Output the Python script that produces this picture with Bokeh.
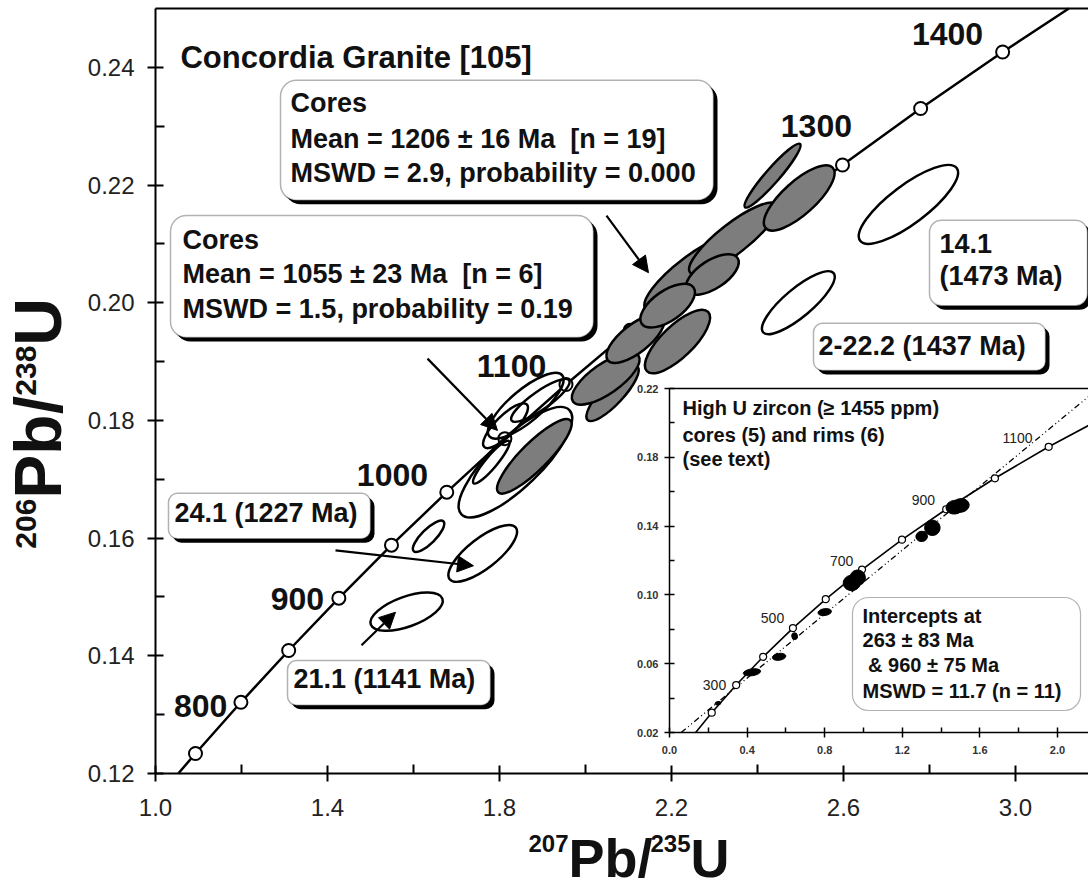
from bokeh.plotting import figure
from bokeh.models import (Range1d, LinearAxis, FixedTicker, PrintfTickFormatter,
                          Label, BoxAnnotation, Arrow, NormalHead, ColumnDataSource)
from bokeh.embed import file_html
from bokeh.resources import INLINE

FONT = "Liberation Sans"
W, H = 1088, 887

# ---------------- main concordia (ages in Ma) ----------------
conc_age = [750, 800, 850, 900, 950, 1000, 1050, 1100, 1150, 1200, 1250, 1300, 1350, 1400]
conc_x = [1.0930, 1.1987, 1.3097, 1.4264, 1.5488, 1.6774, 1.8125, 1.9546,
          2.1037, 2.2603, 2.4249, 2.5977, 2.7794, 2.9701]
conc_y = [0.1234, 0.1321, 0.1409, 0.1498, 0.1588, 0.1678, 0.1769, 0.1861,
          0.1953, 0.2046, 0.2140, 0.2234, 0.2330, 0.2426]
# curve end points where it meets the diagram edges
conc_line_x = [1.053] + conc_x + [3.124]
conc_line_y = [0.120] + conc_y + [0.250]
age_labels = ["800", "900", "1000", "1100", "1300", "1400"]
age_label_x = [1.105, 1.330, 1.551, 1.828, 2.537, 2.842]
age_label_y = [0.1314, 0.1497, 0.1708, 0.1892, 0.2301, 0.2457]

# open (unfilled) analyses
open_x = [2.751, 2.495, 1.761, 1.584, 1.635, 1.837, 1.861, 1.814, 1.781, 1.895]
open_y = [0.2167, 0.2000, 0.1574, 0.1475, 0.1603, 0.1729, 0.1825, 0.1791, 0.1729, 0.1834]
open_w = [0.281, 0.214, 0.195, 0.177, 0.098, 0.349, 0.221, 0.140, 0.128, 0.163]
open_h = [0.0065, 0.0048, 0.0051, 0.0051, 0.0024, 0.0085, 0.0054, 0.0034, 0.0020, 0.0031]
open_ang = [37, 40, 38, 20, 45, 44, 40, 45, 50, 35]

# grey (cores) analyses
core_x = [1.881, 2.063, 2.047, 2.116, 2.214, 2.251, 2.344, 2.295, 2.191, 2.497, 2.435]
core_y = [0.1739, 0.1846, 0.1871, 0.1939, 0.1934, 0.2050, 0.2109, 0.2048, 0.1995, 0.2178, 0.2216]
core_w = [0.237, 0.170, 0.186, 0.163, 0.198, 0.279, 0.256, 0.140, 0.147, 0.210, 0.195]
core_h = [0.0046, 0.0037, 0.0051, 0.0048, 0.0054, 0.0060, 0.0051, 0.0048, 0.0051, 0.0056, 0.0024]
core_ang = [45, 47, 35, 38, 44, 37, 38, 33, 35, 42, 49]

x_major = [1.0, 1.4, 1.8, 2.2, 2.6, 3.0]
x_minor = [1.2, 1.6, 2.0, 2.4, 2.8]
y_major = [0.12, 0.14, 0.16, 0.18, 0.20, 0.22, 0.24]
y_minor = [0.13, 0.15, 0.17, 0.19, 0.21, 0.23]
X_LO, X_HI = 1.0, 3.17
Y_LO, Y_HI = 0.12, 0.25

# ---------------- inset ----------------
ins_age = ["300", "500", "700", "900", "1100"]
ins_age_x = [0.232, 0.531, 0.887, 1.309, 1.794]
ins_age_y = [0.0479, 0.0863, 0.1200, 0.1549, 0.1915]
ins_conc_x = [0.135, 0.2177, 0.3437, 0.4828, 0.6363, 0.8056, 0.9925, 1.1987, 1.4264, 1.6774, 1.9546, 2.160]
ins_conc_y = [0.020, 0.0315, 0.0476, 0.0640, 0.0807, 0.0975, 0.1147, 0.1321, 0.1498, 0.1678, 0.1861, 0.1985]
disc_x = [0.06, 2.16]
disc_y = [0.020, 0.2153]
pt_x = [0.25, 0.425, 0.565, 0.645, 0.80, 0.94, 0.97, 1.30, 1.355, 1.47, 1.50]
pt_y = [0.037, 0.055, 0.064, 0.076, 0.090, 0.107, 0.110, 0.134, 0.139, 0.151, 0.152]
pt_w = [0.03, 0.09, 0.07, 0.03, 0.07, 0.09, 0.08, 0.06, 0.08, 0.09, 0.09]
pt_h = [0.002, 0.004, 0.004, 0.004, 0.004, 0.009, 0.009, 0.006, 0.009, 0.008, 0.008]
ix_major = [0.0, 0.4, 0.8, 1.2, 1.6, 2.0]
ix_minor = [0.2, 0.6, 1.0, 1.4, 1.8]
iy_major = [0.02, 0.06, 0.10, 0.14, 0.18, 0.22]
iy_minor = [0.04, 0.08, 0.12, 0.16, 0.20]
IX_LO, IX_HI = 0.0, 2.16
IY_LO, IY_HI = 0.02, 0.22

# ---------------- layout of the drawing on the page ----------------
# main diagram: x=1.0 at 155 px from the left, 430 px per unit;
# y=0.12 at 114 px above the bottom, 5885 px per unit
x0 = X_LO - 155 / 430
y0 = Y_LO - 114 / 5885
XR = (x0, x0 + W / 430)
YR = (y0, y0 + H / 5885)
# inset: x=0 at 669 px, 194 px per unit; y=0.02 at 155 px above bottom, 1720 px per unit
IXR = (IX_LO - 669 / 194, IX_LO - 669 / 194 + W / 194)
IYR = (IY_LO - 155 / 1720, IY_LO - 155 / 1720 + H / 1720)

p = figure(width=W, height=H, x_range=Range1d(*XR), y_range=Range1d(*YR),
           output_backend="svg", toolbar_location=None,
           x_axis_location=None, y_axis_location=None, min_border=0)
p.grid.visible = False
p.outline_line_color = None
p.background_fill_color = "white"
p.border_fill_color = "white"
p.extra_x_ranges = {"ix": Range1d(*IXR)}
p.extra_y_ranges = {"iy": Range1d(*IYR)}
INS = dict(x_range_name="ix", y_range_name="iy")


def style_axis(ax, tin, tout, mtin, lw, font_size, standoff, bold=False, color="#222"):
    ax.axis_line_width = lw
    ax.major_tick_line_width = lw
    ax.minor_tick_line_width = lw
    ax.major_tick_in = tin
    ax.major_tick_out = tout
    ax.minor_tick_in = mtin
    ax.minor_tick_out = 0
    ax.major_label_text_font = FONT
    ax.major_label_text_font_size = font_size
    ax.major_label_text_color = color
    ax.major_label_text_font_style = "bold" if bold else "normal"
    ax.major_label_standoff = standoff


def frame_line(loc, bounds, lw, **kw):
    ax = LinearAxis(fixed_location=loc, bounds=bounds, ticker=FixedTicker(ticks=[]), **kw)
    ax.axis_line_width = lw
    ax.major_tick_in = ax.major_tick_out = ax.minor_tick_in = ax.minor_tick_out = 0
    p.add_layout(ax, "below")


# main axes
xa = LinearAxis(fixed_location=Y_LO, bounds=(X_LO, X_HI),
                ticker=FixedTicker(ticks=x_major, minor_ticks=x_minor),
                formatter=PrintfTickFormatter(format="%.1f"))
style_axis(xa, 8, 8, 9, 2, "24px", 17)
p.add_layout(xa, "below")
ya = LinearAxis(fixed_location=X_LO, bounds=(Y_LO, Y_HI),
                ticker=FixedTicker(ticks=y_major, minor_ticks=y_minor),
                formatter=PrintfTickFormatter(format="%.2f"))
style_axis(ya, 8, 8, 9, 2, "24px", 13)
p.add_layout(ya, "left")
frame_line(Y_HI, (X_LO, X_HI), 2)

# ---------- main glyphs ----------
p.line(conc_line_x, conc_line_y, line_color="black", line_width=2.5)
p.scatter(conc_x, conc_y, size=13, marker="circle", fill_color="white",
          line_color="black", line_width=2)

src_open = ColumnDataSource(dict(x=open_x, y=open_y, w=open_w, h=open_h, a=open_ang))
p.ellipse("x", "y", width="w", height="h", angle="a", angle_units="deg", source=src_open,
          fill_color=None, line_color="black", line_width=2.5)
src_core = ColumnDataSource(dict(x=core_x, y=core_y, w=core_w, h=core_h, a=core_ang))
p.ellipse("x", "y", width="w", height="h", angle="a", angle_units="deg", source=src_core,
          fill_color="#7d7d7d", line_color="black", line_width=2.5)

for t, x, y in zip(age_labels, age_label_x, age_label_y):
    p.add_layout(Label(x=x, y=y, text=t, text_font=FONT, text_font_style="bold",
                       text_font_size="32px", text_align="center", text_baseline="middle",
                       text_color="#111"))

# ---------- inset ----------
p.line(disc_x, disc_y, line_color="black", line_width=1.3, line_dash="6 3 1 3 1 3", **INS)
p.line(ins_conc_x, ins_conc_y, line_color="black", line_width=1.6, **INS)
p.scatter(ins_conc_x[1:11], ins_conc_y[1:11], size=7, marker="circle", fill_color="white",
          line_color="black", line_width=1.2, **INS)
src_pt = ColumnDataSource(dict(x=pt_x, y=pt_y, w=pt_w, h=pt_h))
p.ellipse("x", "y", width="w", height="h", angle=8, angle_units="deg", source=src_pt,
          fill_color="black", line_color="black", line_width=1, **INS)

iya = LinearAxis(fixed_location=IX_LO, bounds=(IY_LO, IY_HI),
                 ticker=FixedTicker(ticks=iy_major, minor_ticks=iy_minor),
                 formatter=PrintfTickFormatter(format="%.2f"), **INS)
style_axis(iya, 5, 5, 5, 1.5, "11px", 6, bold=True, color="#333")
p.add_layout(iya, "left")
ixa = LinearAxis(fixed_location=IY_LO, bounds=(IX_LO, IX_HI),
                 ticker=FixedTicker(ticks=ix_major, minor_ticks=ix_minor),
                 formatter=PrintfTickFormatter(format="%.1f"), **INS)
style_axis(ixa, 5, 5, 5, 1.5, "11px", 8, bold=True, color="#333")
p.add_layout(ixa, "below")
frame_line(IY_HI, (IX_LO, IX_HI), 1.5, **INS)

for t, x, y in zip(ins_age, ins_age_x, ins_age_y):
    p.add_layout(Label(x=x, y=y, text=t, text_font=FONT, text_font_size="14px",
                       text_align="center", text_baseline="middle", text_color="#222", **INS))

# ---------- annotation boxes ----------
DX = 4 / 430
DY = 4 / 5885


def box(l, r, t, b, radius, shadow=True, lw=1.5, dx=DX, dy=DY, **kw):
    if shadow:
        p.add_layout(BoxAnnotation(left=l + dx, right=r + dx, top=t - dy, bottom=b - dy,
                                   fill_color="black", fill_alpha=1, line_color=None,
                                   border_radius=radius, **kw))
    p.add_layout(BoxAnnotation(left=l, right=r, top=t, bottom=b, fill_color="white",
                               fill_alpha=1, line_color="black", line_width=lw,
                               border_radius=radius, **kw))


def text(x, y, s, size="27px", bold=True, align="left", angle=0, **kw):
    p.add_layout(Label(x=x, y=y, text=s, text_font=FONT, text_font_size=size,
                       text_font_style="bold" if bold else "normal", text_align=align,
                       text_baseline="middle", angle=angle, angle_units="deg",
                       text_color="#111", **kw))


# arrows
for xs, ys, xe, ye in [(2.0488, 0.2148, 2.1465, 0.2051), (1.6326, 0.1905, 1.7953, 0.1783),
                       (1.4186, 0.1579, 1.7395, 0.1553), (1.4791, 0.1418, 1.5581, 0.1474)]:
    p.add_layout(Arrow(x_start=xs, y_start=ys, x_end=xe, y_end=ye, line_width=2.2,
                       end=NormalHead(size=16, fill_color="black", line_color="black")))

box(1.2907, 2.2977, 0.2378, 0.2174, 16)
box(1.0349, 2.0186, 0.2148, 0.1941, 16)
box(1.0302, 1.5000, 0.1676, 0.1599, 9)
box(1.3070, 1.7791, 0.1392, 0.1316, 9)
box(2.8000, 3.1674, 0.2140, 0.1995, 12)
box(2.5302, 3.0698, 0.1965, 0.1885, 9)
box(0.9433, 2.1186, 0.0985, 0.0328, 16, shadow=False, lw=1.2, **INS)

text(1.058, 0.2417, "Concordia Granite [105]", size="31px")
text(1.314, 0.2339, "Cores")
text(1.314, 0.2279, "Mean = 1206 \u00b1 16 Ma \u00a0[n = 19]")
text(1.314, 0.2221, "MSWD = 2.9, probability = 0.000")
text(1.063, 0.2106, "Cores")
text(1.063, 0.2048, "Mean = 1055 \u00b1 23 Ma \u00a0[n = 6]")
text(1.063, 0.1990, "MSWD = 1.5, probability = 0.19")
text(1.044, 0.1642, "24.1 (1227 Ma)")
text(1.321, 0.1360, "21.1 (1141 Ma)")
text(2.823, 0.2101, "14.1")
text(2.823, 0.2045, "(1473 Ma)")
text(2.542, 0.1927, "2-22.2 (1437 Ma)")

text(0.067, 0.2084, "High U zircon (\u2265 1455 ppm)", size="20px", **INS)
text(0.067, 0.1927, "cores (5) and rims (6)", size="20px", **INS)
text(0.067, 0.1793, "(see text)", size="20px", **INS)
text(0.995, 0.0880, "Intercepts at", size="20px", **INS)
text(0.995, 0.0735, "263 \u00b1 83 Ma", size="20px", **INS)
text(0.995, 0.0590, "\u00a0& 960 \u00b1 75 Ma", size="20px", **INS)
text(0.995, 0.0444, "MSWD = 11.7 (n = 11)", size="20px", **INS)

# ---------- axis titles: superscript mass numbers + element symbols ----------
text(1.8674, 0.1081, "207", size="24px")
text(1.9605, 0.1057, "Pb/", size="54px")
text(2.1512, 0.1081, "235", size="24px")
text(2.2442, 0.1057, "U", size="54px")

text(0.6977, 0.1582, "206", size="30px", angle=90)
text(0.7279, 0.1667, "Pb/", size="66px", angle=90)
text(0.6977, 0.1842, "238", size="30px", angle=90)
text(0.7279, 0.1927, "U", size="66px", angle=90)

open("out.html", "w").write(file_html(p, INLINE))
